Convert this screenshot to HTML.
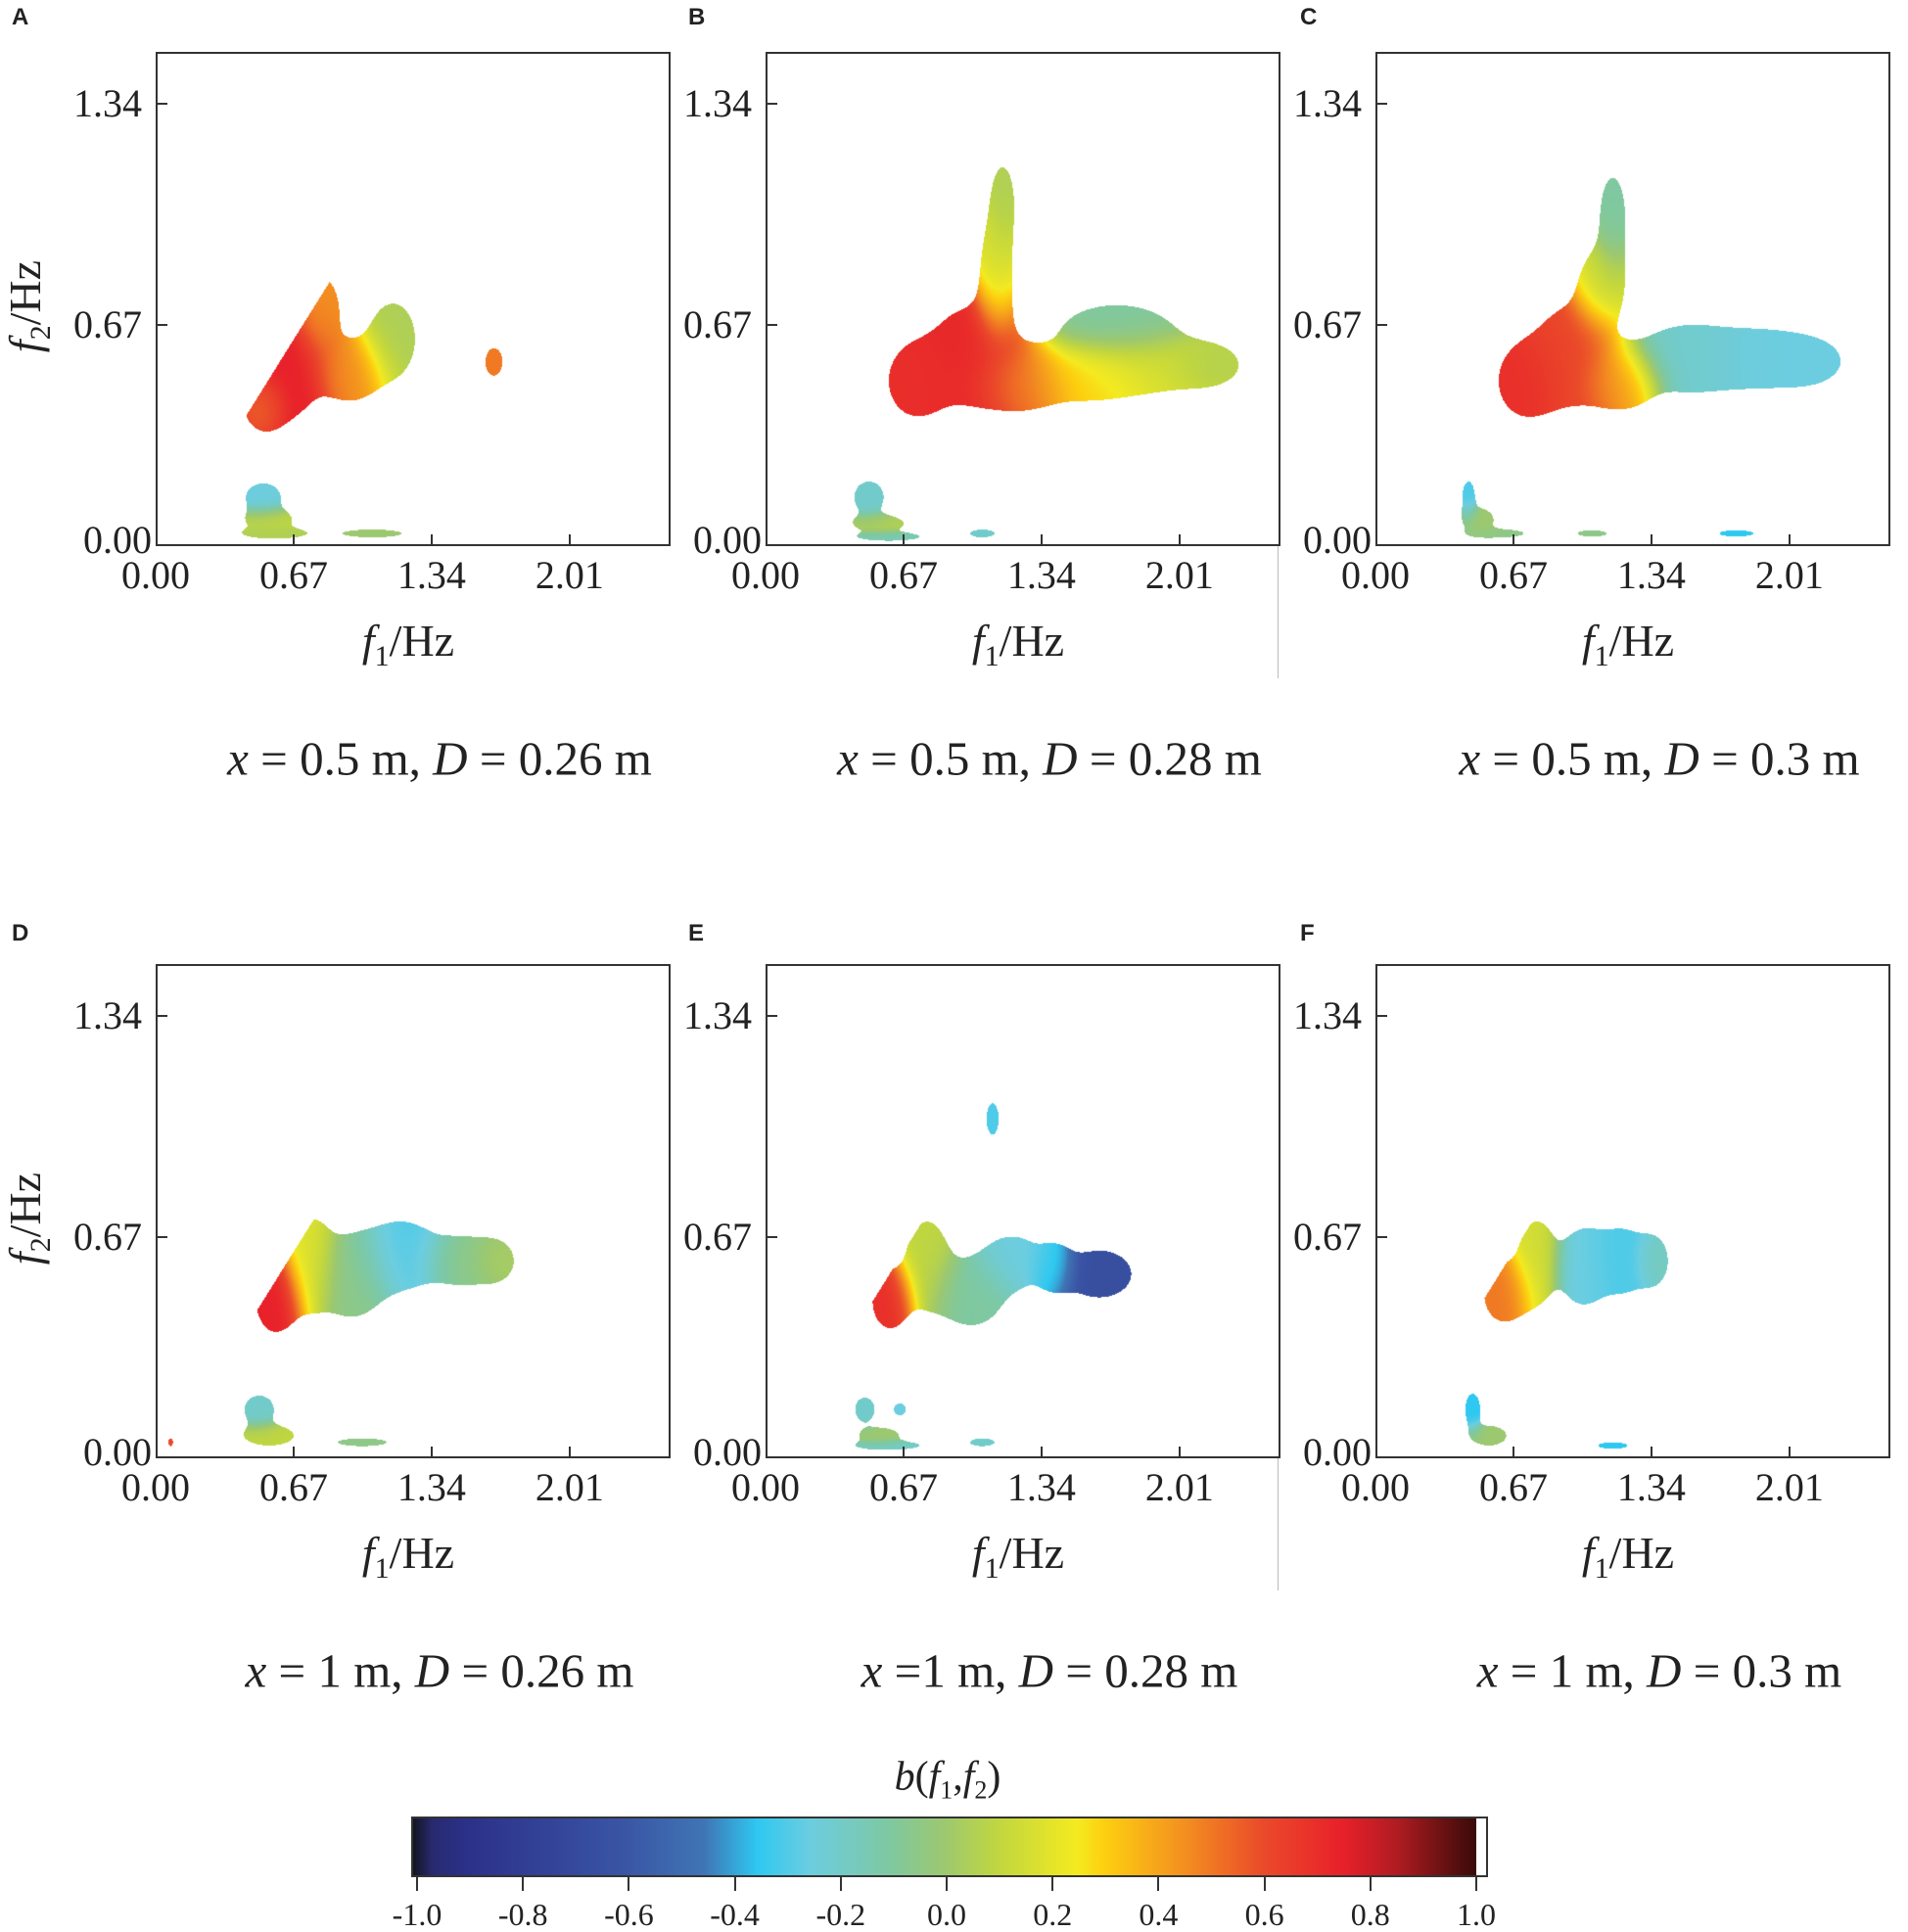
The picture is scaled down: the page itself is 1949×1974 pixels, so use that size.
<!DOCTYPE html>
<html><head><meta charset="utf-8">
<style>
body{margin:0;background:#fff;width:1949px;height:1971px;position:relative;overflow:hidden;font-family:"Liberation Serif",serif;color:#222}
.abs{position:absolute}
.letter{font-family:"Liberation Sans",sans-serif;font-weight:bold;font-size:24px}
.tick{font-size:40px;line-height:1}
.axl{font-size:46px;white-space:nowrap}
.sub{font-size:49px;white-space:nowrap;transform:translate(-50%,-50%)}
</style></head>
<body>
<div id="root"></div>
<script>
// colormap stops
const cmapVals=[-1,-0.96,-0.9,-0.6,-0.45,-0.35,-0.25,-0.1,0,0.1,0.25,0.3,0.45,0.6,0.75,0.85,0.95,1];
const cmapCols=["#111318","#282a70","#2b3088","#3a55a5","#3f75b5","#2ec8f0","#6ccde0","#7fc8a0","#9cc870","#c0d640","#f4ea20","#fdd010","#f39020","#ea4a2a","#e8202a","#b01c22","#601010","#3a0a0a"];
const panelLetters=["A","B","C","D","E","F"];
const panelCaptions=[
 ['x',' = 0.5 m, ','D',' = 0.26 m'],['x',' = 0.5 m, ','D',' = 0.28 m'],['x',' = 0.5 m, ','D',' = 0.3 m'],
 ['x',' = 1 m, ','D',' = 0.26 m'],['x',' =1 m, ','D',' = 0.28 m'],['x',' = 1 m, ','D',' = 0.3 m']];
const xTicks=[0,0.67,1.34,2.01];
const yTicks=[0,0.67,1.34];
const cbTicks=[-1,-0.8,-0.6,-0.4,-0.2,0,0.2,0.4,0.6,0.8,1];
// blobs per panel: [f1, f2, sigma_f1, sigma_f2, value]
const blobsA=[[0.62,0.52,.13,.11,.75],[0.8,0.72,.07,.08,.45],[0.95,0.53,.1,.07,.45],[1.15,0.63,.09,.09,0.05],[0.52,0.43,.06,.05,.5],
 [1.64,0.56,.035,.035,0.5],[0.52,0.15,.07,.035,-0.25],[0.55,0.08,.09,.025,0.1],[0.58,0.04,.12,.012,0.05],[1.05,0.04,.12,.01,0.0]];
const blobsB=[[0.72,0.5,.1,.08,.7],[1.0,0.58,.16,.12,.72],[1.25,0.5,.12,.06,.5],[1.55,0.52,.18,.06,.3],[1.9,0.55,.2,.06,.15],
 [1.7,0.66,.2,.06,-0.1],[2.15,0.55,.1,.04,0.05],[1.12,0.85,.06,.12,0.15],[1.15,1.05,.04,.08,0.05],
 [0.5,0.15,.06,.04,-0.2],[0.55,0.07,.1,.02,0.05],[0.6,0.03,.12,.01,-0.15],[1.05,0.04,.05,.01,-0.2]];
const blobsC=[[0.72,0.5,.1,.08,.7],[0.95,0.58,.14,.12,.62],[1.2,0.5,.1,.06,.45],[1.1,0.8,.08,.08,0.1],[1.15,1.0,.05,.1,-0.1],
 [1.5,0.57,.18,.08,-0.2],[1.9,0.57,.2,.07,-0.25],[2.1,0.56,.1,.04,-0.25],
 [0.45,0.15,.025,.04,-0.3],[0.5,0.08,.06,.03,0.0],[0.6,0.04,.1,.01,-0.05],[1.05,0.04,.06,.008,-0.05],[1.75,0.04,.07,.008,-0.35]];
const blobsD=[[0.58,0.48,.08,.08,0.75],[0.75,0.6,.07,.1,0.2],[0.95,0.55,.12,.1,-0.05],[1.2,0.62,.12,.08,-0.3],[1.5,0.6,.12,.06,-0.05],[1.65,0.6,.06,.04,0.05],
 [0.5,0.15,.06,.035,-0.2],[0.55,0.07,.1,.025,0.1],[1.0,0.05,.1,.01,-0.05],[0.07,0.05,.01,.01,0.6]];
const blobsE=[[0.6,0.48,.07,.07,0.7],[0.78,0.6,.08,.1,0.1],[1.0,0.5,.12,.08,-0.1],[1.2,0.6,.1,.06,-0.25],[1.62,0.56,.13,.06,-0.65],[1.4,0.58,.06,.05,-0.3],[1.1,1.03,.025,.04,-0.3],
 [0.48,0.15,.04,.03,-0.2],[0.65,0.15,.025,.015,-0.25],[0.55,0.07,.08,.02,0.0],[0.6,0.04,.12,.01,-0.2],[1.05,0.05,.05,.01,-0.2]];
const blobsF=[[0.62,0.5,.08,.07,0.5],[0.78,0.6,.07,.1,0.15],[1.0,0.58,.08,.09,-0.25],[1.2,0.6,.1,.08,-0.3],[1.35,0.6,.05,.05,-0.15],
 [0.47,0.15,.03,.04,-0.35],[0.55,0.07,.07,.025,0.0],[1.15,0.04,.06,.008,-0.35]];
const panelBlobs=[blobsA,blobsB,blobsC,blobsD,blobsE,blobsF];

const X0=[159,782,1405], Y0=[53,985], PW=526, PH=505, XMAX=2.5, YMAX=1.498;
const LX=[12,703,1328], LY=[4,940];
const root=document.getElementById('root');
function hex(h){return [parseInt(h.slice(1,3),16),parseInt(h.slice(3,5),16),parseInt(h.slice(5,7),16)];}
const cmapRGB=cmapCols.map(hex);
function cmap(v){v=Math.max(-1,Math.min(1,v));for(let i=1;i<cmapVals.length;i++){if(v<=cmapVals[i]){const t=(v-cmapVals[i-1])/(cmapVals[i]-cmapVals[i-1]);const a=cmapRGB[i-1],b=cmapRGB[i];return [a[0]+(b[0]-a[0])*t,a[1]+(b[1]-a[1])*t,a[2]+(b[2]-a[2])*t];}}return cmapRGB[cmapRGB.length-1];}
function add(tag,cls,css,html){const e=document.createElement(tag);e.className='abs '+cls;e.style.cssText=css;if(html!==undefined)e.innerHTML=html;root.appendChild(e);return e;}

for(let p=0;p<6;p++){
  const col=p%3,row=Math.floor(p/3);
  const L=X0[col],T=Y0[row];
  const sx=f=>L+f/XMAX*PW, sy=f=>T+PH-f/YMAX*PH;
  const lt=add('div','letter',`left:${LX[col]}px;top:${LY[row]}px;`,panelLetters[p]);
  
  
  const cv=document.createElement('canvas');cv.width=PW;cv.height=PH;cv.className='abs';
  cv.style.cssText=`left:${L}px;top:${T}px;`;
  
  
  root.appendChild(cv);
  const ctx=cv.getContext('2d');const img=ctx.createImageData(PW,PH);const bl=panelBlobs[p];
  for(let j=0;j<PH;j++){const f2=(PH-j)/PH*YMAX;
    for(let i=0;i<PW;i++){const f1=i/PW*XMAX;
      if(f2>0.3&&f1<0.95&&f2>f1-0.04)continue;
      let W=0,V=0;
      for(const b of bl){const dx=(f1-b[0])/b[2],dy=(f2-b[1])/b[3];const w=Math.exp(-(dx*dx+dy*dy)/2);W+=w;V+=w*b[4];}
      if(W<0.5)continue;
      const c=cmap(V/W);const k=(j*PW+i)*4;img.data[k]=c[0];img.data[k+1]=c[1];img.data[k+2]=c[2];img.data[k+3]=255;}}
  ctx.putImageData(img,0,0);
  const fr=add('div','',`left:${L}px;top:${T}px;width:${PW}px;height:${PH}px;border:2px solid #333;box-sizing:border-box;`);
  
  
  xTicks.forEach(v=>{
    const x=sx(v);
    if(v>0){const tk=add('div','',`left:${x-1}px;top:${T+PH-12}px;width:2px;height:12px;background:#333;`);
      
      }
    const lb=add('div','tick',`left:${x-50}px;width:100px;text-align:center;top:${T+PH+10}px;`,v.toFixed(2));
    
    
  });
  yTicks.forEach(v=>{
    const y=sy(v);
    if(v>0){const tk=add('div','',`left:${L}px;top:${y-1}px;width:12px;height:2px;background:#333;`);
      
      }
    const lb=add('div','tick',`left:${L-120}px;width:${v===0?116:106}px;text-align:right;top:${y-(v===0?26:20)}px;`,v.toFixed(2));
    
    
  });
  const xl=add('div','axl',`left:${L+258-90}px;width:180px;text-align:center;top:${T+575}px;`,'<i>f</i><sub style="font-size:30px">1</sub>/Hz');
  
  
  if(col===0){const yl=add('div','axl',`left:${L-220}px;top:${T+230}px;width:180px;text-align:center;transform:rotate(-90deg);`,'<i>f</i><sub style="font-size:30px">2</sub>/Hz');
    
    }
  if(col===1){const g=add('div','',`left:${L+PW-3}px;top:${T+PH}px;width:1px;height:135px;background:#bbb;`);
    
    }
  const c=panelCaptions[p];
  const cap=add('div','sub',`left:${L+290}px;top:${T+722}px;`,`<i>${c[0]}</i>${c[1]}<i>${c[2]}</i>${c[3]}`);
  
  
}
// colorbar
const CBL=420,CBR=1508,CBT=1856,CBB=1918;
const cbx=v=>CBL+6+(v+1)/2*(CBR-CBL-6);
let grad=[];for(let i=0;i<cmapVals.length;i++)grad.push(`${cmapCols[i]} ${((cmapVals[i]+1)/2*100).toFixed(1)}%`);
const cb=add('div','',`left:${CBL}px;top:${CBT}px;width:${CBR-CBL}px;height:${CBB-CBT}px;background:linear-gradient(to right,${grad.join(',')});`);


const cbf=add('div','',`left:${CBL}px;top:${CBT}px;width:${CBR-CBL+12}px;height:${CBB-CBT}px;border:2px solid #333;box-sizing:border-box;`);


cbTicks.forEach(v=>{
  const tk=add('div','',`left:${cbx(v)-1}px;top:${CBB}px;width:2px;height:14px;background:#333;`);
  
  
  const lb=add('div','tick',`left:${cbx(v)-40}px;width:80px;text-align:center;top:${CBB+22}px;font-size:32px;`,v.toFixed(1));
  
  
});
const cbt=add('div','sub',`left:968px;top:1818px;font-size:42px;`,'<i>b</i>(<i>f</i><sub style="font-size:26px">1</sub>,<i>f</i><sub style="font-size:26px">2</sub>)');


</script>
</body></html>
